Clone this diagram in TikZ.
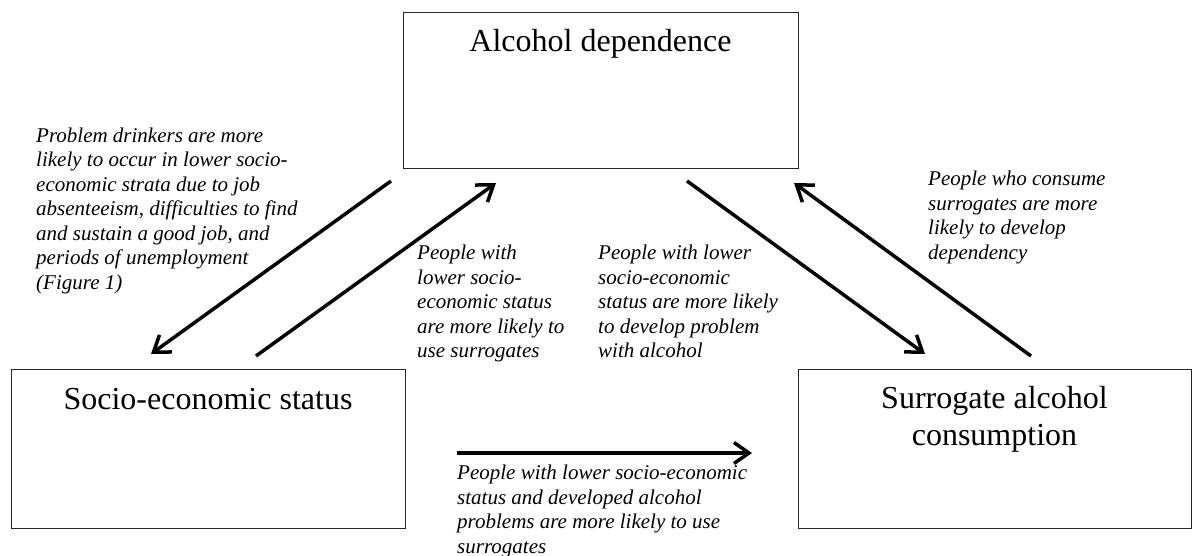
\documentclass[tikz,border=0pt]{standalone}
\usepackage{fontspec}
\setmainfont{Liberation Serif}[ItalicFont={Liberation Serif Italic}]
\usetikzlibrary{arrows.meta,calc}
\begin{document}
\begin{tikzpicture}[x=1pt,y=-1pt,
  box/.style={draw=black!85,line width=0.9pt,inner sep=0pt,minimum width=#1},
  title/.style={font=\fontsize{32}{37}\selectfont,align=center,inner sep=0pt},
  note/.style={font=\fontsize{21}{24.5}\selectfont\itshape,align=left,inner sep=0pt,anchor=north west},
  conn/.style={line width=3.5pt,-{Straight Barb[length=15pt,width=21pt,line width=3.5pt]}}]
\useasboundingbox (0,0) rectangle (1195,556);
% boxes
\node[box=395pt,minimum height=156pt] (dep) at (600.5,90) {};
\node[box=394pt,minimum height=159pt] (ses) at (208,448.5) {};
\node[box=393pt,minimum height=159pt] (sur) at (994.5,448.5) {};
\node[title,anchor=base] (depT) at ($(dep.north)+(0,40)$) {Alcohol dependence};
\node[title,anchor=base] (sesT) at ($(ses.north)+(0,41)$) {Socio-economic status};
\node[title,anchor=north] (surT) at ($(sur.north)+(0,18)$) {Surrogate alcohol\\consumption};
% notes
\node[note] (n1) at (36,127.5) {Problem drinkers are more\\likely to occur in lower socio-\\economic strata due to job\\absenteeism, difficulties to find\\and sustain a good job, and\\periods of unemployment\\(Figure 1)};
\node[note] (n2) at (417,245) {People with\\lower socio-\\economic status\\are more likely to\\use surrogates};
\node[note] (n3) at (598,245) {People with lower\\socio-economic\\status are more likely\\to develop problem\\with alcohol};
\node[note] (n4) at (928,171) {People who consume\\surrogates are more\\likely to develop\\dependency};
\node[note] (n5) at (457,465) {People with lower socio-economic\\status and developed alcohol\\problems are more likely to use\\surrogates};
% connector ends
\coordinate (a1s) at (391,181);
\coordinate (a1e) at (151,354);
\coordinate (a2s) at (256,356);
\coordinate (a2e) at (496,183);
\coordinate (a3s) at (687,181);
\coordinate (a3e) at (925,354);
\coordinate (a4s) at (1031,356);
\coordinate (a4e) at (794,183);
\coordinate (a5s) at (457,453);
\coordinate (a5e) at (752,453);
\draw[conn] (a1s) -- (a1e);
\draw[conn] (a2s) -- (a2e);
\draw[conn] (a3s) -- (a3e);
\draw[conn] (a4s) -- (a4e);
\draw[conn] (a5s) -- (a5e);
\end{tikzpicture}
\end{document}
